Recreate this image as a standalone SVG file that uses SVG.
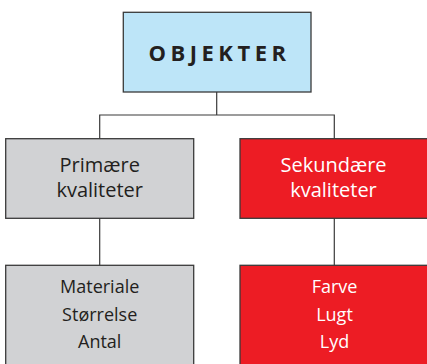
<svg xmlns="http://www.w3.org/2000/svg" width="427" height="364" viewBox="0 0 427 364">
<style>
.box{stroke:#3a3a3a;stroke-width:1.3}
.blue{fill:#bde5f8}
.gray{fill:#d1d2d4}
.red{fill:#ed1c24}
.t{font-family:"Open Sans","Liberation Sans",sans-serif;text-anchor:middle}
.dark{fill:#231f20}
.white{fill:#ffffff}
.conn{stroke:#3a3a3a;stroke-width:1.2;fill:none}
</style>
<rect width="427" height="364" fill="#ffffff"/>
<g id="connectors">
<path class="conn" d="M216.7 92 V115 M99.7 139 V115 H334.3 V139"/>
<path class="conn" d="M99.7 218 V265.5"/>
<path class="conn" d="M334.3 218 V265.5"/>
</g>
<g id="objekter">
<rect class="box blue" x="123.3" y="12.3" width="187.7" height="79.7"/>
<text class="t dark" x="219.5" y="61" font-size="22" font-weight="bold" letter-spacing="4.5" font-family="Liberation Sans, sans-serif">OBJEKTER</text>
</g>
<g id="primaere">
<rect class="box gray" x="5.7" y="138.7" width="188" height="79.6"/>
<text class="t dark" x="99.7" y="171.7" font-size="20">Primære</text>
<text class="t dark" x="99.7" y="196.7" font-size="20">kvaliteter</text>
</g>
<g id="sekundaere">
<rect class="box red" x="240" y="138.7" width="190" height="79.6"/>
<text class="t white" x="333.5" y="171.7" font-size="20">Sekundære</text>
<text class="t white" x="333.5" y="196.7" font-size="20">kvaliteter</text>
</g>
<g id="primaere-list">
<rect class="box gray" x="5.7" y="265.3" width="188" height="105"/>
<text class="t dark" x="99.7" y="293.3" font-size="18">Materiale</text>
<text class="t dark" x="99.7" y="320.7" font-size="18">Størrelse</text>
<text class="t dark" x="99.7" y="347.7" font-size="18">Antal</text>
</g>
<g id="sekundaere-list">
<rect class="box red" x="240" y="265.3" width="190" height="105"/>
<text class="t white" x="334.5" y="293.3" font-size="18">Farve</text>
<text class="t white" x="334.5" y="320.7" font-size="18">Lugt</text>
<text class="t white" x="334.5" y="347.7" font-size="18">Lyd</text>
</g>
</svg>
